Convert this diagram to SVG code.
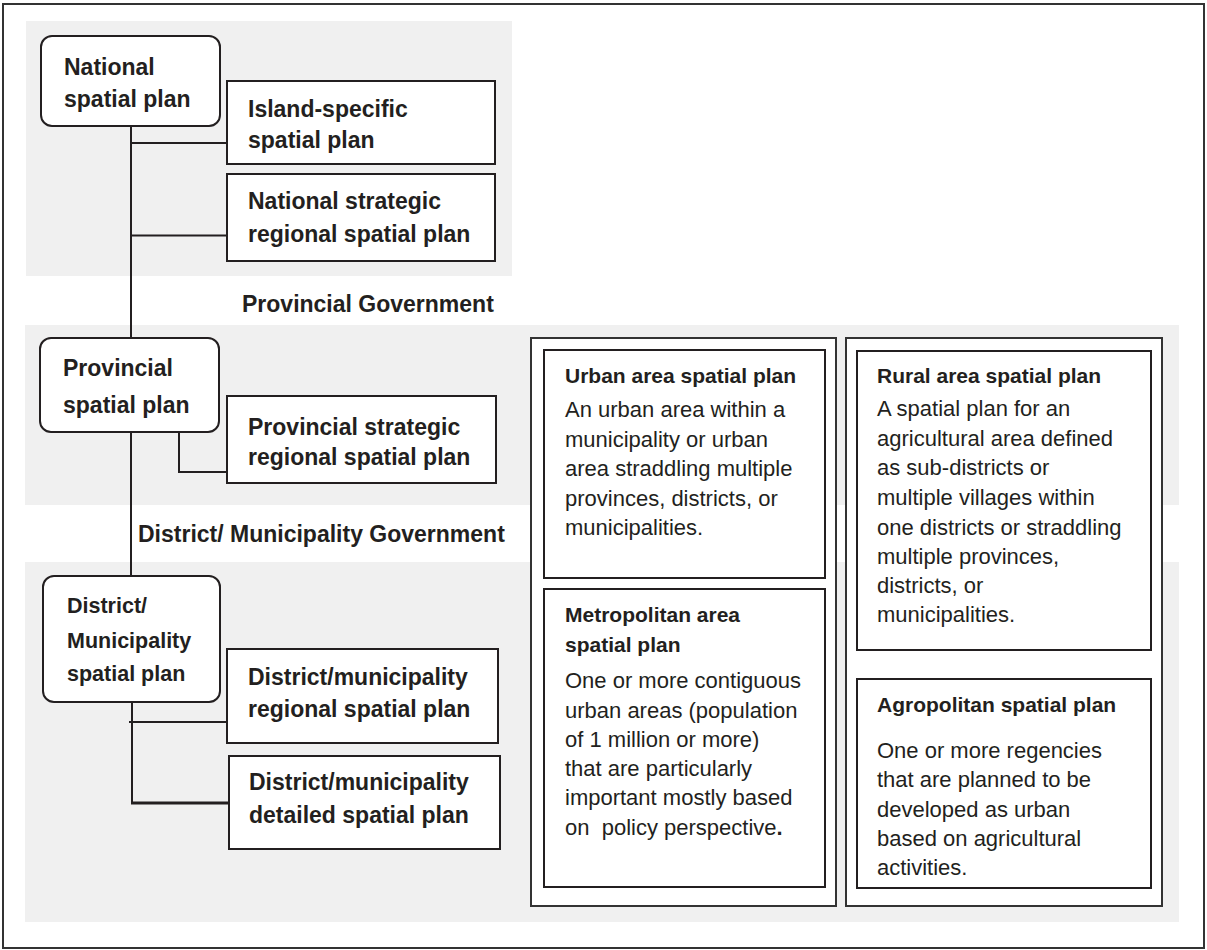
<svg xmlns="http://www.w3.org/2000/svg" width="1207" height="950" viewBox="0 0 1207 950">
  <style>
    .band { fill: #f0f0f0; }
    .frame { fill: #ffffff; stroke: #333333; stroke-width: 2; }
    .node { fill: #ffffff; stroke: #231f20; stroke-width: 2; }
    .box { fill: #ffffff; stroke: #231f20; stroke-width: 2; }
    .panel { fill: #ffffff; stroke: #333333; stroke-width: 2; }
    .wire { fill: none; stroke: #231f20; stroke-width: 2; }
    .wire-thick { fill: none; stroke: #231f20; stroke-width: 3; }
    .lbl { font-family: "Liberation Sans", Arial, sans-serif; font-weight: bold; font-size: 23px; fill: #231f20; }
    .lbl-sm { font-family: "Liberation Sans", Arial, sans-serif; font-weight: bold; font-size: 21.5px; fill: #231f20; }
    .title { font-family: "Liberation Sans", Arial, sans-serif; font-weight: bold; font-size: 21px; fill: #231f20; }
    .body { font-family: "Liberation Sans", Arial, sans-serif; font-size: 22px; fill: #231f20; }
  </style>

  <!-- outer frame -->
  <rect class="frame" x="3" y="4" width="1201" height="944"/>

  <!-- tier backgrounds -->
  <g id="bands">
    <rect class="band" x="26" y="21" width="486" height="255"/>
    <rect class="band" x="25" y="325" width="1154" height="180"/>
    <rect class="band" x="25" y="562" width="1154" height="360"/>
  </g>

  <!-- tier headings -->
  <g id="tier-labels">
    <text class="lbl" x="242" y="312">Provincial Government</text>
    <text class="lbl" x="138" y="542">District/ Municipality Government</text>
  </g>

  <!-- connectors -->
  <g id="connectors">
    <path class="wire" d="M131 126 V338"/>
    <path class="wire" d="M131 143 H227"/>
    <path class="wire" d="M131 235.5 H227"/>
    <path class="wire" d="M131 432 V576"/>
    <path class="wire" d="M179 432 V472 H227"/>
    <path class="wire" d="M132 702 V803"/>
    <path class="wire" d="M129 722 H227"/>
    <path class="wire-thick" d="M131 803 H229"/>
  </g>

  <!-- national tier -->
  <g id="national-plan">
    <rect class="node" x="41" y="36" width="179" height="90" rx="11"/>
    <text class="lbl" x="64" y="75">National</text>
    <text class="lbl" x="64" y="107">spatial plan</text>
  </g>
  <g id="island-plan">
    <rect class="box" x="227" y="81" width="268" height="83"/>
    <text class="lbl" x="248" y="117">Island-specific</text>
    <text class="lbl" x="248" y="148">spatial plan</text>
  </g>
  <g id="national-strategic-plan">
    <rect class="box" x="227" y="174" width="268" height="87"/>
    <text class="lbl" x="248" y="209">National strategic</text>
    <text class="lbl" x="248" y="242">regional spatial plan</text>
  </g>

  <!-- provincial tier -->
  <g id="provincial-plan">
    <rect class="node" x="40" y="338" width="179" height="94" rx="11"/>
    <text class="lbl" x="63" y="376">Provincial</text>
    <text class="lbl" x="63" y="413">spatial plan</text>
  </g>
  <g id="provincial-strategic-plan">
    <rect class="box" x="227" y="396" width="269" height="87"/>
    <text class="lbl" x="248" y="435">Provincial strategic</text>
    <text class="lbl" x="248" y="465">regional spatial plan</text>
  </g>

  <!-- district / municipality tier -->
  <g id="district-plan">
    <rect class="node" x="43" y="576" width="177" height="126" rx="11"/>
    <text class="lbl-sm" x="67" y="613">District/</text>
    <text class="lbl-sm" x="67" y="648">Municipality</text>
    <text class="lbl-sm" x="67" y="681">spatial plan</text>
  </g>
  <g id="district-regional-plan">
    <rect class="box" x="227" y="649" width="271" height="94"/>
    <text class="lbl" x="248" y="685">District/municipality</text>
    <text class="lbl" x="248" y="717">regional spatial plan</text>
  </g>
  <g id="district-detailed-plan">
    <rect class="box" x="229" y="756" width="271" height="93"/>
    <text class="lbl" x="249" y="790">District/municipality</text>
    <text class="lbl" x="249" y="823">detailed spatial plan</text>
  </g>

  <!-- special area plans -->
  <g id="panel-left">
    <rect class="panel" x="531" y="338" width="305" height="568"/>
  </g>
  <g id="urban-plan">
    <rect class="box" x="544" y="350" width="281" height="228"/>
    <text class="title" x="565" y="383">Urban area spatial plan</text>
    <text class="body" x="565" y="417">An urban area within a</text>
    <text class="body" x="565" y="446.5">municipality or urban</text>
    <text class="body" x="565" y="476">area straddling multiple</text>
    <text class="body" x="565" y="505.5">provinces, districts, or</text>
    <text class="body" x="565" y="535">municipalities.</text>
  </g>
  <g id="metropolitan-plan">
    <rect class="box" x="544" y="589" width="281" height="298"/>
    <text class="title" x="565" y="622">Metropolitan area</text>
    <text class="title" x="565" y="652">spatial plan</text>
    <text class="body" x="565" y="688">One or more contiguous</text>
    <text class="body" x="565" y="717.5">urban areas (population</text>
    <text class="body" x="565" y="747">of 1 million or more)</text>
    <text class="body" x="565" y="776">that are particularly</text>
    <text class="body" x="565" y="805">important mostly based</text>
    <text class="body" x="565" y="834.5" xml:space="preserve">on  policy perspective<tspan font-weight="bold">.</tspan></text>
  </g>

  <g id="panel-right">
    <rect class="panel" x="846" y="338" width="316" height="568"/>
  </g>
  <g id="rural-plan">
    <rect class="box" x="857" y="351" width="294" height="299"/>
    <text class="title" x="877" y="383">Rural area spatial plan</text>
    <text class="body" x="877" y="416">A spatial plan for an</text>
    <text class="body" x="877" y="445.5">agricultural area defined</text>
    <text class="body" x="877" y="475">as sub-districts or</text>
    <text class="body" x="877" y="504.5">multiple villages within</text>
    <text class="body" x="877" y="534.5">one districts or straddling</text>
    <text class="body" x="877" y="564">multiple provinces,</text>
    <text class="body" x="877" y="593">districts, or</text>
    <text class="body" x="877" y="622">municipalities.</text>
  </g>
  <g id="agropolitan-plan">
    <rect class="box" x="857" y="679" width="294" height="209"/>
    <text class="title" x="877" y="712">Agropolitan spatial plan</text>
    <text class="body" x="877" y="757.5">One or more regencies</text>
    <text class="body" x="877" y="787">that are planned to be</text>
    <text class="body" x="877" y="816.5">developed as urban</text>
    <text class="body" x="877" y="845.5">based on agricultural</text>
    <text class="body" x="877" y="875">activities.</text>
  </g>
</svg>
